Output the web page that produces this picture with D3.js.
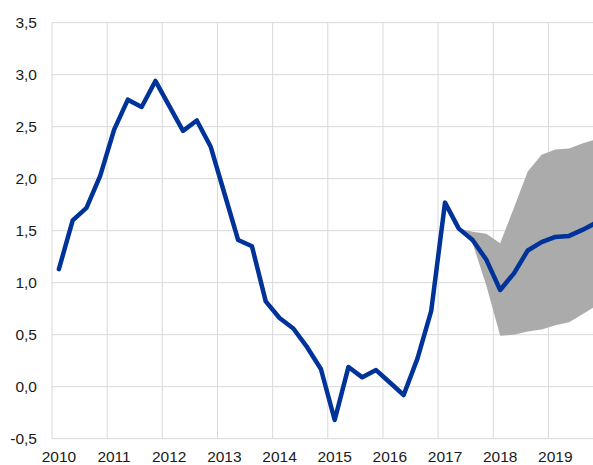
<!DOCTYPE html>
<html>
<head>
<meta charset="utf-8">
<script src="https://cdn.jsdelivr.net/npm/d3@7"></script>
<style>
  body { margin: 0; background: #fff; }
  text { font-family: Arial, "Liberation Sans", sans-serif; font-size: 15.5px; fill: #1a1a1a; }
</style>
</head>
<body>
<div id="chart"></div>
<script>
// quarterly values, 2010 Q1 .. 2019 Q4
var years = ['2010', '2011', '2012', '2013', '2014', '2015', '2016', '2017', '2018', '2019'];
var yTicks = [-0.5, 0, 0.5, 1, 1.5, 2, 2.5, 3, 3.5];

var series = [
  1.13, 1.60, 1.72, 2.03,
  2.47, 2.76, 2.69, 2.94,
  2.70, 2.46, 2.56, 2.31,
  1.86, 1.41, 1.35, 0.82,
  0.66, 0.56, 0.38, 0.17,
  -0.32, 0.19, 0.09, 0.16,
  0.04, -0.08, 0.27, 0.73,
  1.77, 1.52, 1.41, 1.22,
  0.93, 1.09, 1.31, 1.39,
  1.44, 1.45, 1.51, 1.58
];

// projection range, starts at 2017 Q2 (index 29)
var bandStart = 29;
var bandUpper = [1.52, 1.49, 1.47, 1.38, 1.72, 2.07, 2.23, 2.28, 2.29, 2.34, 2.38];
var bandLower = [1.52, 1.38, 0.97, 0.49, 0.50, 0.53, 0.55, 0.59, 0.62, 0.70, 0.78];

(() => {
  var width = 593, height = 465;
  var left = 52, top = 22.7, bottom = 438.7;
  var qw = 13.79;

  var svg = d3.select('#chart')
    .append('svg')
    .attr('width', width)
    .attr('height', height);

  var x = d3.scaleLinear()
    .domain([0, 40])
    .range([left, left + 40 * qw]);

  var y = d3.scaleLinear()
    .domain([-0.5, 3.5])
    .range([bottom, top]);

  var loc = d3.formatLocale({ decimal: ',', thousands: '.', grouping: [3], currency: ['', ''], minus: '-' });
  var fmt = loc.format('.1f');

  // grid
  svg.append('g')
    .selectAll('line')
    .data(yTicks)
    .enter()
      .append('line')
      .attr('x1', left)
      .attr('x2', width)
      .attr('y1', d => y(d))
      .attr('y2', d => y(d))
      .attr('stroke', '#d9d9d9')
      .attr('stroke-width', 1);

  svg.append('g')
    .selectAll('line')
    .data(d3.range(0, 40, 4))
    .enter()
      .append('line')
      .attr('x1', d => x(d))
      .attr('x2', d => x(d))
      .attr('y1', y(3.5))
      .attr('y2', y(-0.5))
      .attr('stroke', '#d9d9d9')
      .attr('stroke-width', 1);

  // y labels
  svg.append('g')
    .selectAll('text')
    .data(yTicks)
    .enter()
      .append('text')
      .attr('x', 37)
      .attr('y', d => y(d))
      .attr('dy', '0.35em')
      .attr('text-anchor', 'end')
      .text(d => fmt(d));

  // x labels
  svg.append('g')
    .selectAll('text')
    .data(years)
    .enter()
      .append('text')
      .attr('x', (d, i) => x(i * 4 + 0.5))
      .attr('y', 461.5)
      .attr('text-anchor', 'middle')
      .text(d => d);

  // band
  var band = bandUpper.map((u, i) => ({ i: bandStart + i, u: u, l: bandLower[i] }));
  var area = d3.area()
    .x(d => x(d.i + 0.5))
    .y0(d => y(d.l))
    .y1(d => y(d.u));

  svg.append('path')
    .datum(band)
    .attr('fill', '#ababab')
    .attr('d', area);

  // main line
  var line = d3.line()
    .x((d, i) => x(i + 0.5))
    .y(d => y(d));

  svg.append('path')
    .datum(series)
    .attr('fill', 'none')
    .attr('stroke', '#003399')
    .attr('stroke-width', 4.5)
    .attr('stroke-linejoin', 'round')
    .attr('stroke-linecap', 'round')
    .attr('d', line);
})();
</script>
</body>
</html>
